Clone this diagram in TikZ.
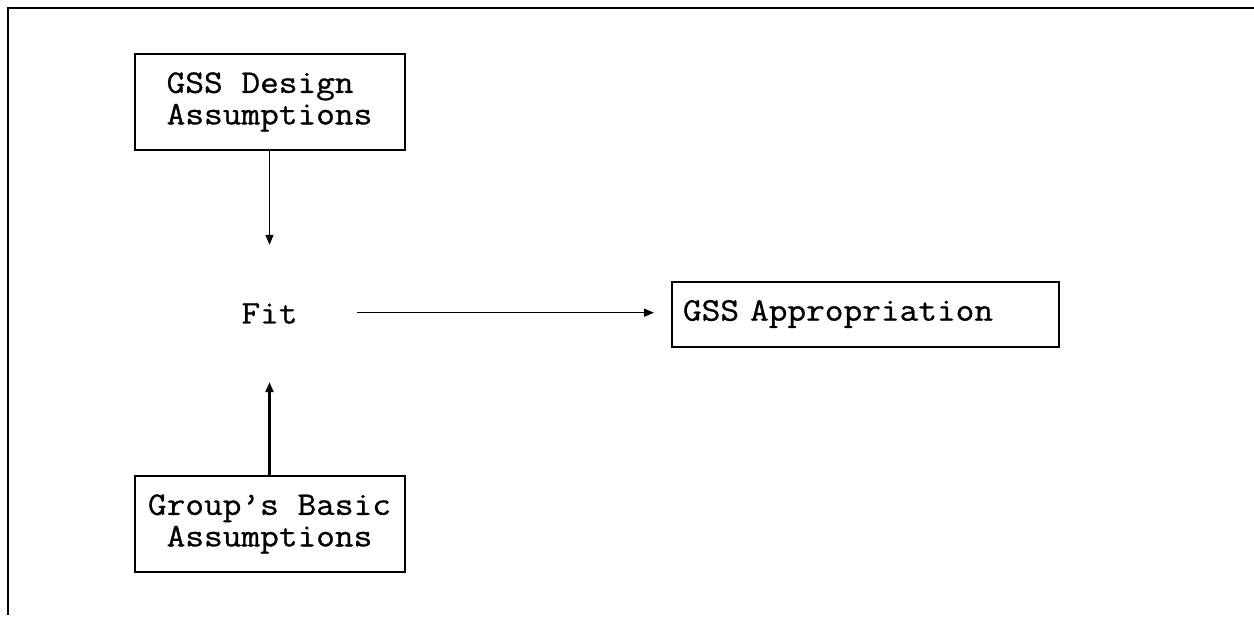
\documentclass[tikz,border=0pt]{standalone}
\usepackage{fontspec}
\setmonofont{Latin Modern Mono}[FakeStretch=1.1, FakeBold=0.8]
\usetikzlibrary{arrows.meta}
\tikzset{
  label font/.style={font=\ttfamily\fontsize{33}{31.5}\selectfont},
  box/.style={draw, line width=2pt, inner sep=0pt, label font},
  plain/.style={inner sep=0pt, label font},
  link/.style={-{Triangle[length=10pt,width=8pt]}, line width=1.4pt},
}
\begin{document}
\begin{tikzpicture}[x=1pt,y=-1pt]
  \useasboundingbox (0,0) rectangle (1254,624);
  % open frame: top and left edges only
  \draw[line width=2pt] (1254,8) -- (8,8) -- (8,615);

  \node[box, minimum width=270pt, minimum height=96pt, align=left] (design) at (269.5,102) {GSS Design\\Assumptions};
  \node[plain, minimum width=174pt, minimum height=137pt] (fit) at (269.5,313.5) {Fit};
  \node[box, minimum width=270pt, minimum height=96pt, align=center] (group) at (269.5,524) {Group’s Basic\\Assumptions};
  \node[box, text width=365pt, inner sep=11pt, minimum height=65pt, align=left] (appr) at (865.5,314) {GSS Appropriation};

  \draw[link, line width=1.2pt] (design) -- (fit);
  \draw[link, line width=2.2pt] (group) -- (fit);
  \draw[link, shorten >=17pt] (fit.east |- 0,312.7) -- (appr.west |- 0,312.7);
\end{tikzpicture}
\end{document}
